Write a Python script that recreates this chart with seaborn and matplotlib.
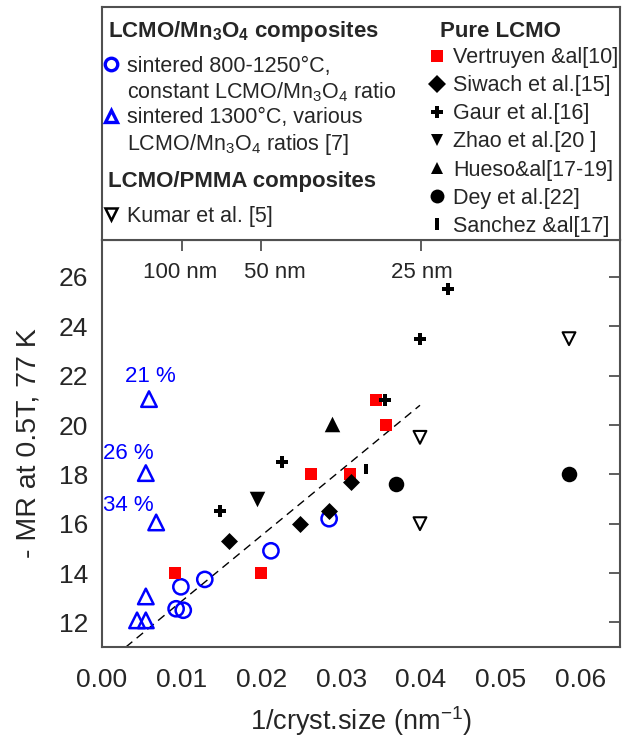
import numpy as np
import pandas as pd
import matplotlib
matplotlib.use("Agg")
import matplotlib.pyplot as plt
from matplotlib.lines import Line2D
import seaborn as sns

# ---- data ----
# LCMO/Mn3O4 composites, sintered 800-1250 C (open blue circles)
circ_x = [0.0099, 0.0093, 0.0102, 0.0129, 0.0212, 0.0285]
circ_y = [13.44, 12.55, 12.49, 13.74, 14.90, 16.20]
# LCMO/Mn3O4 composites, sintered 1300 C (open blue triangles)
tri_x = [0.0059, 0.0055, 0.0068, 0.0055, 0.0044, 0.0055]
tri_y = [21.05, 18.05, 16.05, 13.05, 12.08, 12.08]
tri_labels = ["21 %", "26 %", "34 %"]
# LCMO/PMMA composites (open down triangles)
kumar_x = [0.0586, 0.0399, 0.0399]
kumar_y = [23.5, 19.5, 16.0]
# pure LCMO
vert_x = [0.0091, 0.0200, 0.0262, 0.0311, 0.0344, 0.0356]
vert_y = [14.0, 14.0, 18.0, 18.0, 21.0, 20.0]
siw_x = [0.0160, 0.0249, 0.0285, 0.0312]
siw_y = [15.3, 16.0, 16.5, 17.7]
gaur_x = [0.0148, 0.0226, 0.0355, 0.0399, 0.0434]
gaur_y = [16.5, 18.5, 21.0, 23.5, 25.5]
zhao_x = [0.0195]
zhao_y = [17.0]
hueso_x = [0.0289]
hueso_y = [20.05]
dey_x = [0.0369, 0.0586]
dey_y = [17.6, 18.0]
sanchez_x = [0.0331]
sanchez_y = [18.2]
# dashed guide line
fit_x = [0.0030, 0.0399]
fit_y = [11.0, 20.8]
# crystallite sizes shown on top
size_nm = [100, 50, 25]
size_labels = ["100 nm", "50 nm", "25 nm"]

sns.set_style("white")
plt.rcParams["font.family"] = ["Liberation Sans", "DejaVu Sans"]
plt.rcParams["mathtext.fontset"] = "custom"
plt.rcParams["mathtext.rm"] = "Liberation Sans"
plt.rcParams["mathtext.bf"] = "Liberation Sans:bold"
plt.rcParams["mathtext.default"] = "regular"

BLUE = "#0000ff"
RED = "#ff0000"
SPINE = "#505050"
bar = [(-0.28, -1), (0.28, -1), (0.28, 1), (-0.28, 1)]  # vertical bar marker

fig = plt.figure(figsize=(6.35, 7.38), dpi=100)
ax = fig.add_axes([0.1606, 0.1233, 0.8158, 0.5515])
ax_leg = fig.add_axes([0.1606, 0.6748, 0.8158, 0.3157])

groups = [
    (circ_x, circ_y, "o", 120, "none", BLUE, 1.8),
    (tri_x, tri_y, "^", 125, "none", BLUE, 1.8),
    (kumar_x, kumar_y, "v", 85, "none", "black", 1.5),
    (vert_x, vert_y, "s", 85, RED, RED, 0),
    (siw_x, siw_y, "D", 75, "black", "black", 0),
    (gaur_x, gaur_y, "P", 85, "black", "black", 0),
    (zhao_x, zhao_y, "v", 125, "black", "black", 0),
    (hueso_x, hueso_y, "^", 125, "black", "black", 0),
    (dey_x, dey_y, "o", 125, "black", "black", 0),
    (sanchez_x, sanchez_y, bar, 60, "black", "black", 0),
]
for gx, gy, mk, s, fc, ec, lw in groups:
    sns.scatterplot(x=gx, y=gy, marker=mk, s=s, facecolors=fc,
                    edgecolors=ec, linewidths=lw, ax=ax, zorder=3)

sns.lineplot(x=fit_x, y=fit_y, ax=ax, color="black", lw=1.0,
             linestyle=(0, (6, 4)), zorder=2)

# percent labels next to the blue triangles
for (lx, ly), t in zip([(0.0061, 21.95), (0.0033, 18.85), (0.0033, 16.75)], tri_labels):
    ax.text(lx, ly, t, color=BLUE, fontsize=16, ha="center", va="center")

# crystallite size labels on top
for lx, t in zip([0.0098, 0.0217, 0.0402], size_labels):
    ax.text(lx, 26.2, t, fontsize=16, ha="center", va="center")

ax.set_xlim(0, 0.065)
ax.set_ylim(11, 27.5)
ax.set_xticks(np.arange(0, 0.061, 0.01))
ax.set_xticklabels([f"{v:.2f}" for v in np.arange(0, 0.061, 0.01)])
ax.set_yticks(np.arange(12, 27, 2))
ax.tick_params(direction="in", length=8, width=1.3, color=SPINE,
               labelsize=19, right=True, pad=10)
ax.tick_params(axis="x", pad=15)
ax.set_xlabel("1/cryst.size (nm$^{-1}$)", fontsize=19.5, labelpad=9)
ax.set_ylabel("- MR at 0.5T, 77 K", fontsize=20.5, labelpad=12)

# top ticks at the crystallite sizes
top = ax.secondary_xaxis("top")
top.set_xticks([1 / n for n in size_nm])
top.set_xticklabels([])
top.tick_params(direction="in", length=8, width=1.3, color=SPINE)
top.spines["top"].set_visible(False)

for a in (ax, ax_leg):
    for sp in a.spines.values():
        sp.set_color(SPINE)
        sp.set_linewidth(1.5)
ax_leg.set_xticks([])
ax_leg.set_yticks([])

# ---- legend panel ----
def handle(mk, fc, ec, ms, mew=0):
    return Line2D([], [], linestyle="none", marker=mk, markersize=ms,
                  markerfacecolor=fc, markeredgecolor=ec, markeredgewidth=mew)

blank = Line2D([], [], linestyle="none", marker="")

head_kw = dict(fontsize=16, fontweight="bold", va="center", ha="left",
               transform=ax_leg.transAxes)
ax_leg.text(0.012, 0.893, "LCMO/Mn$_3$O$_4$ composites", **head_kw)
ax_leg.text(0.012, 0.250, "LCMO/PMMA composites", **head_kw)
ax_leg.text(0.652, 0.893, "Pure LCMO", **head_kw)

leg_kw = dict(frameon=False, fontsize=15.5, borderaxespad=0, borderpad=0,
              handlelength=0.7, handletextpad=0.4)

leg1 = ax_leg.legend(
    [handle("o", "none", BLUE, 9, 2.4), blank,
     handle("^", "none", BLUE, 9, 2.4), blank],
    ["sintered 800-1250°C,", "constant LCMO/Mn$_3$O$_4$ ratio",
     "sintered 1300°C, various", "LCMO/Mn$_3$O$_4$ ratios [7]"],
    loc="upper left", bbox_to_anchor=(0.003, 0.79), labelspacing=0.16, **leg_kw)
ax_leg.add_artist(leg1)

leg2 = ax_leg.legend(
    [handle("v", "none", "black", 8, 1.8)], ["Kumar et al. [5]"],
    loc="upper left", bbox_to_anchor=(0.003, 0.148), **leg_kw)
ax_leg.add_artist(leg2)

leg3 = ax_leg.legend(
    [handle("s", RED, RED, 9), handle("D", "black", "black", 9),
     handle("P", "black", "black", 8), handle("v", "black", "black", 9),
     handle("^", "black", "black", 9), handle("o", "black", "black", 10),
     handle(bar, "black", "black", 9)],
    ["Vertruyen &al[10]", "Siwach et al.[15]", "Gaur et al.[16]",
     "Zhao et al.[20 ]", "Hueso&al[17-19]", "Dey et al.[22]", "Sanchez &al[17]"],
    loc="upper left", bbox_to_anchor=(0.632, 0.828),
    labelspacing=0.33, **leg_kw)

fig.savefig("out.png", dpi=100)
